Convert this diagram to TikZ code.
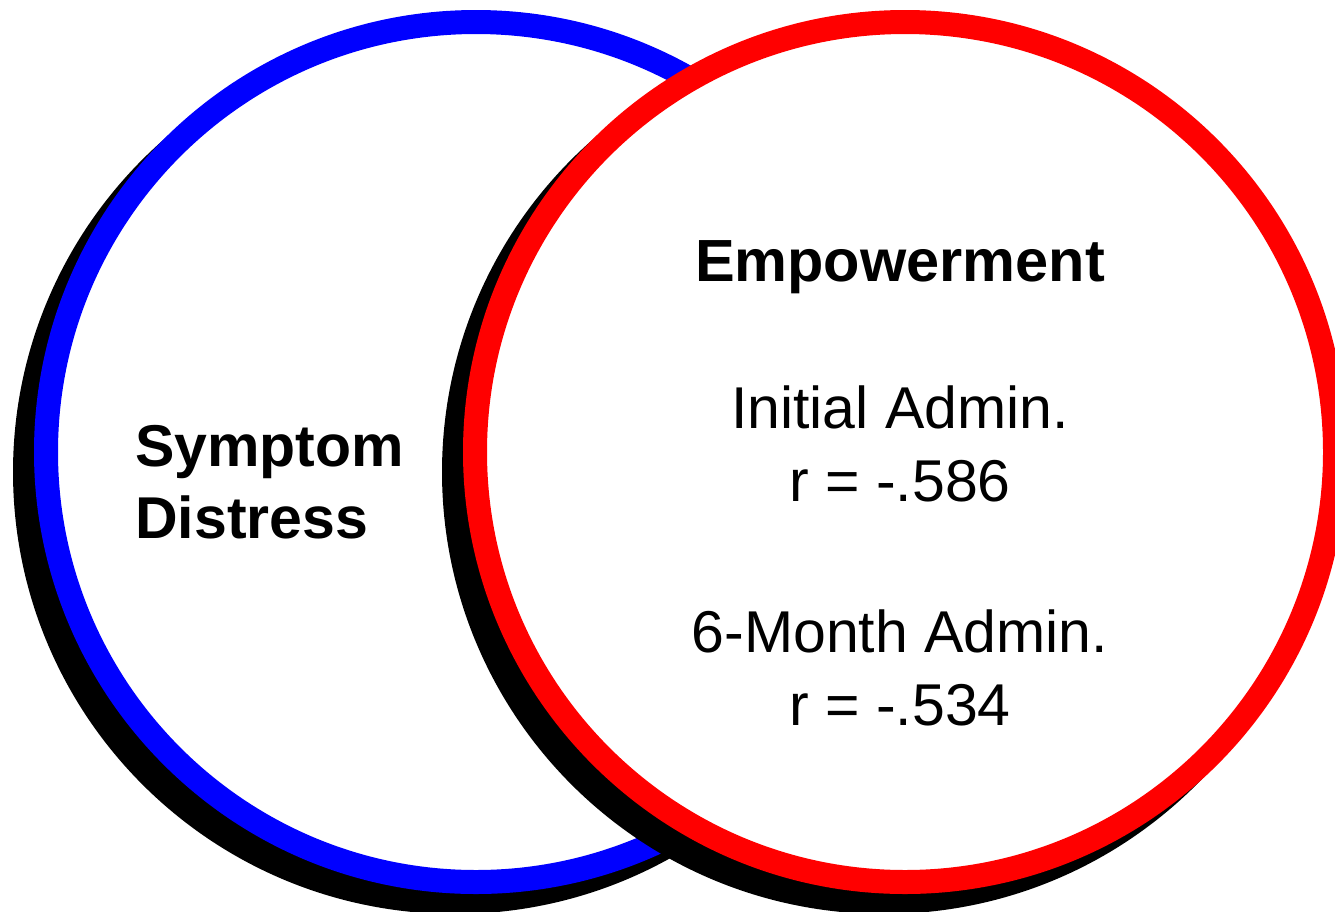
\documentclass[tikz,border=0pt]{standalone}
\usepackage{fontspec}
\setmainfont{Liberation Sans}
\begin{document}
\begin{tikzpicture}[x=1pt,y=1pt,
  ring/.style={line width=24pt,fill=white},
  shadowdisk/.style={fill=black},
  boldlabel/.style={font=\fontsize{59}{73}\selectfont\bfseries,inner sep=0pt,anchor=base west},
  plainlabel/.style={font=\fontsize{59}{73}\selectfont,inner sep=0pt,anchor=base}]
\useasboundingbox (0,0) rectangle (1335,-911);
\clip (0,0) rectangle (1335,-911);
% blue circle with shadow
\fill[shadowdisk] (455,-472) circle[radius=442];
\draw[ring,draw={rgb,255:red,0;green,0;blue,255}] (476,-452) circle[radius=430];
% red circle with shadow
\fill[shadowdisk] (884,-472) circle[radius=442];
\draw[ring,draw={rgb,255:red,255;green,0;blue,0}] (905,-452) circle[radius=430];
% texts
\node[boldlabel] (sym) at (135,-466) {Symptom};
\node[boldlabel] (dis) at (135,-538) {Distress};
\node[plainlabel,font=\fontsize{59.5}{73}\selectfont\bfseries] (emp) at (900,-281) {Empowerment};
\node[plainlabel] (ini) at (900,-428) {Initial Admin.};
\node[plainlabel] (r1) at (900,-501) {r = -.586};
\node[plainlabel] (six) at (900,-652) {6-Month Admin.};
\node[plainlabel] (r2) at (900,-725) {r = -.534};
\end{tikzpicture}
\end{document}
